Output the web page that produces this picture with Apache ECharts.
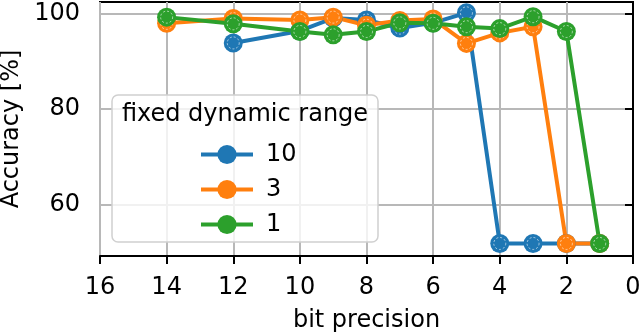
<!DOCTYPE html>
<html>
<head>
<meta charset="utf-8">
<script src="https://cdn.jsdelivr.net/npm/echarts@6/dist/echarts.min.js"></script>
<style>html,body{margin:0;padding:0;background:#fff}#c{width:640px;height:333px}</style>
</head>
<body>
<div id="c"></div>
<script>
// ---- data ----
const seriesNames = ['10', '3', '1'];
const bits10 = [12, 10, 9, 8, 7, 6, 5, 4, 3, 2, 1];
const acc10  = [93.8, 96.3, 99.0, 98.6, 96.9, 98.0, 100.1, 51.8, 51.8, 51.8, 51.8];
const bits3  = [14, 12, 10, 9, 8, 7, 6, 5, 4, 3, 2, 1];
const acc3   = [97.9, 98.9, 98.6, 99.2, 97.5, 98.5, 98.8, 93.7, 95.9, 97.2, 51.8, 51.8];
const bits1  = [14, 12, 10, 9, 8, 7, 6, 5, 4, 3, 2, 1];
const acc1   = [99.2, 97.8, 96.2, 95.5, 96.2, 98.0, 97.9, 97.2, 96.8, 99.3, 96.2, 51.8];
const yTicks = [60, 80, 100];
const xTicks = [16, 14, 12, 10, 8, 6, 4, 2, 0];

const colors = ['#1f77b4', '#ff7f0e', '#2ca02c'];
const FONT = 'DejaVu Sans';
const pairs = (xs, ys) => xs.map((x, i) => [x, ys[i]]);
const sets = [pairs(bits10, acc10), pairs(bits3, acc3), pairs(bits1, acc1)];

const series = [];
sets.forEach((d, i) => {
  series.push({
    name: seriesNames[i], type: 'line', data: d,
    symbol: 'circle', symbolSize: 19, showAllSymbol: true,
    lineStyle: { width: 4, color: colors[i] },
    itemStyle: { color: colors[i] },
    emphasis: { disabled: true }, animation: false, z: 2
  });
  series.push({
    name: '_ring' + i, type: 'scatter', data: d,
    symbol: 'circle', symbolSize: 12, silent: true,
    itemStyle: { color: 'rgba(0,0,0,0)', borderColor: 'rgba(255,255,255,0.75)', borderWidth: 1, borderType: [2, 2] },
    animation: false, z: 2
  });
});

const chart = echarts.init(document.getElementById('c'), null, { renderer: 'canvas' });
chart.setOption({
  animation: false,
  textStyle: { fontFamily: FONT },
  grid: { left: 100, right: 7, top: 2, bottom: 77, outerBoundsMode: 'none', containLabel: false,
    show: true, borderColor: '#000', borderWidth: 2, backgroundColor: 'transparent' },
  xAxis: {
    type: 'value', inverse: true, min: 0, max: 16, interval: 2,
    name: 'bit precision', nameLocation: 'middle', nameGap: 53,
    nameTextStyle: { fontSize: 24, color: '#000', fontFamily: FONT },
    axisLine: { show: true, lineStyle: { color: '#000', width: 2 } },
    axisTick: { show: true, length: 8, inside: false, lineStyle: { color: '#000', width: 2 } },
    axisLabel: { fontSize: 24, color: '#000', margin: 20, fontFamily: FONT,
      customValues: xTicks },
    splitLine: { show: true, lineStyle: { color: '#b8b8b8', width: 2 } }
  },
  yAxis: {
    type: 'value', min: 49.17, max: 102.37,
    name: 'Accuracy [%]', nameLocation: 'middle', nameGap: 72,
    nameTextStyle: { fontSize: 24, color: '#000', fontFamily: FONT },
    axisLine: { show: true, lineStyle: { color: '#000', width: 2 } },
    axisTick: { show: true, length: 8, lineStyle: { color: '#000', width: 2 }, customValues: yTicks },
    axisLabel: { fontSize: 24, color: '#000', margin: 20, fontFamily: FONT, customValues: yTicks },
    splitLine: { show: true, lineStyle: { color: '#b8b8b8', width: 2 } }
  },
  legend: {
    data: seriesNames, orient: 'vertical', left: 194, top: 137,
    itemWidth: 52, itemHeight: 24, itemGap: 10, z: 100,
    lineStyle: { width: 4 },
    textStyle: { fontSize: 24, color: '#000', lineHeight: 25, fontFamily: FONT, padding: [0, 0, 0, 8] },
    selectedMode: false
  },
  graphic: [
    { type: 'rect', z: 50, shape: { x: 112, y: 95, width: 266, height: 147, r: 6 },
      style: { fill: 'rgba(255,255,255,0.8)', stroke: '#d0d0d0', lineWidth: 1.5 } },
    { type: 'text', z: 51, x: 245, y: 115,
      style: { text: 'fixed dynamic range', font: '24px "DejaVu Sans"', fill: '#000', align: 'center', verticalAlign: 'middle' } }
  ],
  series: series
});
</script>
</body>
</html>
